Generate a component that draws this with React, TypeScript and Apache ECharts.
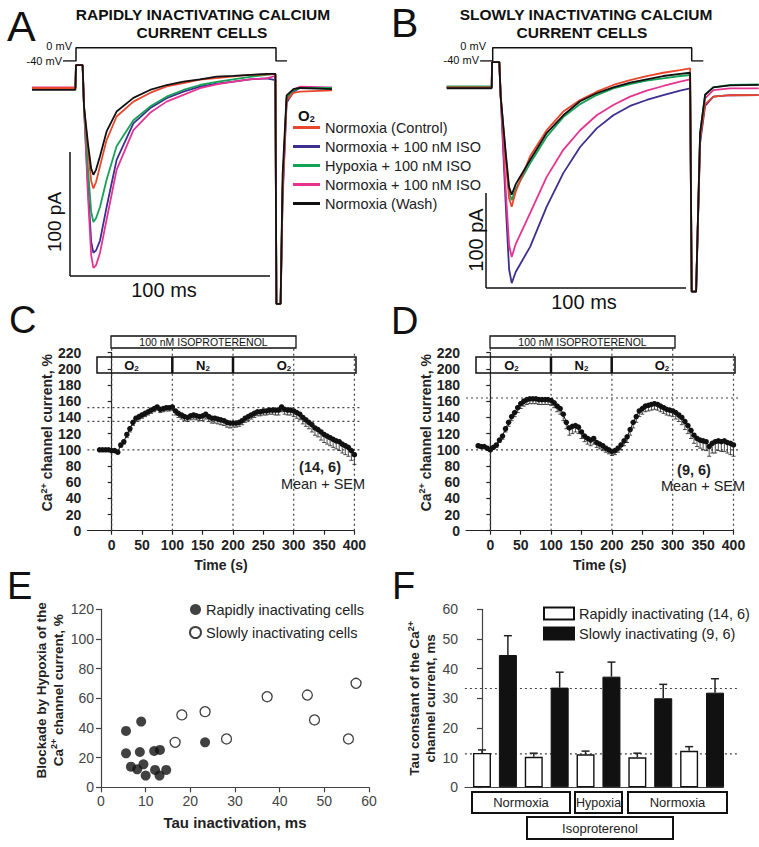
import React, { useEffect, useRef } from "react";
import * as echarts from "echarts";

const FONT = '"Liberation Sans", Arial, Helvetica, sans-serif';

// ---------- Panels A & B: voltage protocol (mV) and current traces (ms, pA)
const protoMv = [-40, -40, 0, 0, -40, -40];
const protoTimeA = [-6.5, 0, 0, 100, 100, 105.5];
const protoTimeB = [-6.3, 0, 0, 99.5, 99.5, 105.3];

const timeA = [-22, -0.3, 0, 3.3, 4, 6, 7.6, 8.7, 10, 12, 15.3, 20.3, 28.7, 37, 45.3, 53.7, 62, 70.3, 78.7, 87, 95.3, 99.7, 100.2, 102.3, 103.3, 105.3, 108.7, 112, 128];
const aCtrl = [0, 0, 18.5, 18.5, -15, -50, -75, -81, -76, -63, -42, -23, -11, -4, 1.3, 4, 6.7, 8, 9.4, 10.5, 11, 11.3, -174, -174, -80, -10, -4, -3, -2];
const aIsoA = [0, 0, 18.5, 18.5, -15, -80, -124, -133, -131, -123, -96, -58, -28.5, -16.4, -8.3, -3, 1.1, 3.5, 5.1, 7, 7.8, 6.4, -174, -174, -90, -12, -3, 0, 0];
const aHyp = [0, 0, 18.5, 18.5, -15, -65, -100, -108, -105, -96, -74, -47, -26, -15, -7, -1.6, 2.4, 5, 7, 9, 10.5, 11.3, -174, -174, -80, -8, -2, 0, 0];
const aIsoB = [0.5, 0.5, 18.5, 18.5, -15, -87, -135, -145, -143, -133, -106, -66, -34, -20, -11, -5.6, -0.2, 3, 5.1, 7, 7.8, 9.7, -174, -174, -85, -9, -1, 1, 0.5];
const aWash = [-1.5, -1.5, 18.5, 18.5, -15, -45, -65, -70, -66, -55, -35, -19, -8, -1.6, 2.4, 5.1, 7, 9.1, 9.7, 10.5, 11.3, 11.3, -174, -174, -70, -6, -1, 0, -1];

const timeB = [-23, -0.5, -0.3, 3.3, 4, 6.5, 8.2, 9.5, 11.5, 18.7, 27, 35.3, 43.7, 52, 60.3, 68.7, 77, 85.3, 93.7, 98.7, 99.5, 101.7, 103.7, 106.2, 110.3, 118.7, 133];
const bCtrl = [0, 0, 27, 27, -10, -78, -119, -128, -112, -74, -46, -26, -13.6, -4.7, 2.5, 7.8, 12.1, 15.6, 18.5, 20.4, -219, -219, -55, -18, -10, -8.5, -8.3];
const bIsoA = [0, 0, 27, 27, -10, -125, -195, -210, -198, -171, -128, -92, -64, -44, -30, -20, -13.6, -8.3, -3.6, -1.1, -219, -219, -60, -20, -10, -8.5, -8.3];
const bHyp = [1, 1, 27, 27, -10, -72, -112, -121, -109, -81.5, -53, -32, -18, -8.3, -1.1, 3.5, 7.1, 9.6, 12.1, 13.2, -219, -219, -49, -8, 0, 2.5, 3];
const bIsoB = [0, 0, 27, 27, -10, -110, -169, -182, -168, -135, -96, -67, -46, -30, -19, -10, -3.6, 1.4, 6, 8.6, -219, -219, -52, -12, -3, -1.1, -1.1];
const bWash = [-1, -1, 27, 27, -10, -70, -107, -115, -104, -78, -49, -30, -15, -6.4, 0, 4.9, 8.6, 12.1, 14.3, 15.6, -219, -219, -49, -8, 0, 2, 2.5];

const traceKeys = ["ctrl", "isoA", "hyp", "isoB", "wash"];
const traceLabels = ["Normoxia (Control)", "Normoxia + 100 nM ISO", "Hypoxia + 100 nM ISO", "Normoxia + 100 nM ISO", "Normoxia (Wash)"];
const traceColors = ["#e8472e", "#3c2f8f", "#17a058", "#e5348f", "#111111"];

// ---------- Panels C & D: time course (s, %)
const cdTime = [-20, -15, -10, -5, 0, 5, 10, 15, 20, 25, 30, 35, 40, 45, 50, 55, 60, 65, 70, 75, 80, 85, 90, 95, 100, 105, 110, 115, 120, 125, 130, 135, 140, 145, 150, 155, 160, 165, 170, 175, 180, 185, 190, 195, 200, 205, 210, 215, 220, 225, 230, 235, 240, 245, 250, 255, 260, 265, 270, 275, 280, 285, 290, 295, 300, 305, 310, 315, 320, 325, 330, 335, 340, 345, 350, 355, 360, 365, 370, 375, 380, 385, 390, 395, 400];
const cMean = [100, 100, 100, 100, 99, 99, 97, 106, 110, 119, 126, 134, 139, 141, 143, 145, 147, 149, 151, 153, 150, 151, 152, 152, 153, 148, 145, 143, 141, 140, 142, 143, 142, 141, 142, 144, 141, 139, 139, 138, 137, 136, 134, 133, 133, 133, 134, 136, 139, 141, 143, 145, 147, 147, 148, 148, 149, 149, 149, 149, 153, 150, 149, 149, 148, 146, 144, 140, 137, 134, 131, 127, 125, 122, 119, 117, 115, 113, 111, 110, 107, 105, 103, 99, 94];
const cSem = [1, 1, 1, 1, 1, 1, 2, 3, 3, 4, 4, 4, 4, 4, 4, 4, 4, 4, 4, 4, 4, 4, 4, 4, 4, 5, 5, 5, 5, 5, 5, 5, 5, 5, 6, 6, 6, 6, 6, 6, 6, 6, 6, 6, 5, 5, 5, 5, 5, 5, 5, 5, 5, 5, 5, 5, 5, 5, 6, 6, 6, 6, 6, 6, 7, 7, 7, 8, 8, 8, 9, 9, 9, 10, 10, 10, 10, 10, 10, 11, 11, 11, 11, 12, 12];
const dMean = [105, 104, 104, 102, 100, 103, 106, 112, 117, 126, 134, 141, 146, 152, 157, 160, 162, 163, 163, 163, 162, 162, 162, 162, 161, 158, 154, 151, 144, 134, 127, 129, 130, 128, 122, 117, 114, 112, 114, 109, 107, 105, 102, 100, 98, 99, 102, 106, 111, 116, 125, 134, 141, 148, 151, 154, 155, 156, 157, 156, 154, 152, 150, 149, 148, 146, 143, 140, 135, 130, 124, 118, 114, 112, 111, 110, 104, 108, 110, 111, 110, 111, 109, 108, 106];
const dSem = [2, 2, 2, 2, 2, 2, 3, 3, 4, 4, 5, 5, 5, 6, 6, 6, 6, 6, 6, 6, 6, 6, 6, 6, 6, 6, 7, 7, 8, 8, 9, 9, 8, 8, 8, 7, 7, 7, 7, 6, 6, 6, 5, 5, 5, 5, 5, 6, 6, 7, 7, 7, 7, 7, 7, 7, 7, 7, 7, 7, 7, 7, 7, 7, 7, 8, 8, 9, 10, 10, 10, 10, 10, 10, 11, 11, 12, 12, 14, 12, 12, 13, 13, 14, 14];
const cdTicks = [0, 50, 100, 150, 200, 250, 300, 350, 400];
const cdRefX = [0, 100, 200, 300, 400];
const cRefY = [100, 135, 152];
const dRefY = [100, 164];

// ---------- Panel E: scatter (ms, %)
const rapidTau = [5.6, 9.0, 5.6, 8.7, 11.9, 13.2, 6.7, 8.1, 9.5, 10.0, 12.1, 13.1, 14.6, 23.3];
const rapidBlock = [38, 44.3, 22.9, 23.8, 24.5, 25.2, 13.9, 12.1, 15.5, 7.9, 11.7, 7.9, 11.7, 30.3];
const slowTau = [16.6, 18.1, 23.3, 28.1, 37.2, 46.2, 47.8, 55.4, 57.1];
const slowBlock = [30.3, 48.8, 51, 32.6, 61.1, 62.2, 45.4, 32.6, 70.1];

// ---------- Panel F: bars (ms)
const rapidPos = [0, 2, 4, 6, 8];
const slowPos = [1, 3, 5, 7, 9];
const rapidTauMean = [11.6, 10.3, 11.1, 10.1, 12.3];
const rapidTauSem = [1.0, 1.2, 1.1, 1.4, 1.4];
const slowTauMean = [44.6, 33.6, 37.3, 30.0, 31.9];
const slowTauSem = [6.5, 5.2, 4.9, 4.7, 4.7];
const fRefY = [33.3, 11.3];

const zip = (xs: number[], ys: number[]) => xs.map((x, i) => [x, ys[i]]);

function txt(x: number, y: number, text: string, o: any = {}) {
  const align = o.align || "center";
  const size = o.size || 14;
  return {
    type: "text",
    x,
    y,
    rotation: o.rot || 0,
    z: 10,
    style: {
      text,
      fill: o.color || "#111",
      fontSize: size,
      fontWeight: o.bold ? "bold" : "normal",
      fontFamily: FONT,
      lineHeight: o.lh || Math.round(size * 1.05),
      align,
      verticalAlign: "middle",
      textAlign: align,
      textVerticalAlign: "middle",
      rich: o.rich,
    },
  };
}
function rect(x: number, y: number, w: number, h: number, lw = 1.5) {
  return { type: "rect", z: 9, shape: { x, y, width: w, height: h }, style: { fill: "none", stroke: "#111", lineWidth: lw } };
}
function seg(x1: number, y1: number, x2: number, y2: number, lw = 1.5) {
  return { type: "line", z: 9, shape: { x1, y1, x2, y2 }, style: { stroke: "#111", lineWidth: lw } };
}

const subRich = (size: number) => ({
  b: { fontSize: size, fontWeight: "bold", fontFamily: FONT, fill: "#111", color: "#111" },
  sub: { fontSize: Math.round(size * 0.62), fontWeight: "bold", fontFamily: FONT, verticalAlign: "bottom", fill: "#111", color: "#111" },
});

function buildOption() {
  const traceSets = [
    [aCtrl, aIsoA, aHyp, aIsoB, aWash],
    [bCtrl, bIsoA, bHyp, bIsoB, bWash],
  ];
  const drawOrder = [1, 3, 2, 0, 4];
  const series: any[] = [];

  // protocol lines
  series.push({ type: "line", xAxisIndex: 0, yAxisIndex: 0, data: zip(protoTimeA, protoMv), symbol: "none", lineStyle: { color: "#111", width: 1.5 }, silent: true });
  series.push({ type: "line", xAxisIndex: 2, yAxisIndex: 2, data: zip(protoTimeB, protoMv), symbol: "none", lineStyle: { color: "#111", width: 1.5 }, silent: true });

  traceSets.forEach((set, p) => {
    const times = p === 0 ? timeA : timeB;
    const ax = p === 0 ? 1 : 3;
    drawOrder.forEach((k) => {
      series.push({
        type: "line",
        name: traceKeys[k],
        xAxisIndex: ax,
        yAxisIndex: ax,
        data: zip(times, set[k]),
        symbol: "none",
        showSymbol: false,
        lineStyle: { color: traceColors[k], width: 1.8 },
        itemStyle: { color: traceColors[k] },
        silent: true,
      });
    });
  });

  const refRender = (dash: number[]) => (params: any, api: any) => {
    const p1 = api.coord([api.value(0), api.value(1)]);
    const p2 = api.coord([api.value(2), api.value(3)]);
    return { type: "line", shape: { x1: p1[0], y1: p1[1], x2: p2[0], y2: p2[1] }, style: { stroke: "#444", lineWidth: 1.2, lineDash: dash } };
  };
  const errRender = (dir: number, cap: number, lw: number) => (params: any, api: any) => {
    const x = api.value(0), m = api.value(1), s = api.value(2);
    const p1 = api.coord([x, m]);
    const p2 = api.coord([x, m + dir * s]);
    return {
      type: "group",
      children: [
        { type: "line", shape: { x1: p1[0], y1: p1[1], x2: p2[0], y2: p2[1] }, style: { stroke: "#222", lineWidth: lw } },
        { type: "line", shape: { x1: p2[0] - cap, y1: p2[1], x2: p2[0] + cap, y2: p2[1] }, style: { stroke: "#222", lineWidth: lw } },
      ],
    };
  };

  // C & D
  [
    { ax: 4, mean: cMean, sem: cSem, refY: cRefY },
    { ax: 5, mean: dMean, sem: dSem, refY: dRefY },
  ].forEach((d) => {
    const refs: number[][] = [];
    d.refY.forEach((y) => refs.push([-40, y, 410, y]));
    cdRefX.forEach((x) => refs.push([x, 0, x, x === 400 ? 220 : 226]));
    series.push({ type: "custom", xAxisIndex: d.ax, yAxisIndex: d.ax, data: refs, renderItem: refRender([2, 3]), silent: true, z: 1, encode: { x: 0, y: 1 } });
    series.push({ type: "custom", xAxisIndex: d.ax, yAxisIndex: d.ax, data: cdTime.map((t, i) => [t, d.mean[i], d.sem[i]]), renderItem: errRender(-1, 2, 0.8), silent: true, z: 2, encode: { x: 0, y: 1 } });
    series.push({
      type: "line",
      xAxisIndex: d.ax,
      yAxisIndex: d.ax,
      data: zip(cdTime, d.mean),
      symbol: "circle",
      symbolSize: 5.5,
      showAllSymbol: true,
      lineStyle: { color: "#111", width: 1 },
      itemStyle: { color: "#111" },
      silent: true,
      z: 3,
    });
  });

  // E
  series.push({ type: "scatter", name: "Rapidly inactivating cells", xAxisIndex: 6, yAxisIndex: 6, data: zip(rapidTau, rapidBlock), symbolSize: 10, itemStyle: { color: "#111" }, silent: true });
  series.push({ type: "scatter", name: "Slowly inactivating cells", xAxisIndex: 6, yAxisIndex: 6, data: zip(slowTau, slowBlock), symbolSize: 10, itemStyle: { color: "#fff", borderColor: "#111", borderWidth: 1.3 }, silent: true });

  // F
  series.push({ type: "custom", xAxisIndex: 7, yAxisIndex: 7, data: fRefY.map((y) => [-0.66, y, 9.85, y]), renderItem: refRender([2, 3]), silent: true, z: 1, encode: { x: 0, y: 1 } });
  series.push({ type: "bar", name: "Rapidly inactivating (14, 6)", xAxisIndex: 7, yAxisIndex: 7, data: zip(rapidPos, rapidTauMean), barWidth: 18, barGap: "-100%", itemStyle: { color: "#fff", borderColor: "#111", borderWidth: 1.4 }, silent: true, z: 2 });
  series.push({ type: "bar", name: "Slowly inactivating (9, 6)", xAxisIndex: 7, yAxisIndex: 7, data: zip(slowPos, slowTauMean), barWidth: 18, barGap: "-100%", itemStyle: { color: "#111", borderColor: "#111", borderWidth: 1 }, silent: true, z: 2 });
  series.push({
    type: "custom",
    xAxisIndex: 7,
    yAxisIndex: 7,
    data: rapidPos.map((x, i) => [x, rapidTauMean[i], rapidTauSem[i]]).concat(slowPos.map((x, i) => [x, slowTauMean[i], slowTauSem[i]])),
    renderItem: errRender(1, 4, 1.5),
    silent: true,
    z: 3,
    encode: { x: 0, y: 1 },
  });

  const hidden = { show: false };
  const darkLine = { show: true, lineStyle: { color: "#222", width: 1.2 } };
  const grayLine = { show: true, lineStyle: { color: "#444", width: 1.2 } };
  const supRich = (size: number, color: string) => ({
    sup: { fontSize: Math.round(size * 0.65), fontWeight: "bold", fontFamily: FONT, color, verticalAlign: "top", lineHeight: size + 2 },
  });

  const cdX = (gi: number) => ({
    gridIndex: gi,
    type: "value",
    min: -40,
    max: 400,
    axisLine: darkLine,
    axisTick: { show: true, length: 4, customValues: cdTicks, lineStyle: { color: "#222", width: 1.2 } },
    axisLabel: { customValues: cdTicks, fontWeight: "bold", fontSize: 14, color: "#222", fontFamily: FONT, margin: 7 },
    splitLine: hidden,
    name: "Time (s)",
    nameLocation: "middle",
    nameGap: 27,
    nameTextStyle: { fontWeight: "bold", fontSize: 14, color: "#222", fontFamily: FONT },
  });
  const cdY = (gi: number) => ({
    gridIndex: gi,
    type: "value",
    min: 0,
    max: 220,
    interval: 20,
    axisLine: darkLine,
    axisTick: { show: true, length: 4, lineStyle: { color: "#222", width: 1.2 } },
    axisLabel: { fontWeight: "bold", fontSize: 14, color: "#222", fontFamily: FONT, margin: 6 },
    splitLine: hidden,
    name: "Ca{sup|2+} channel current, %",
    nameLocation: "middle",
    nameGap: 31,
    nameRotate: 90,
    nameTextStyle: { fontWeight: "bold", fontSize: 14, color: "#222", fontFamily: FONT, padding: [0, 0, 0, 18], rich: supRich(14, "#222") },
  });

  const graphic: any[] = [
    // panel letters
    txt(7, 26, "A", { size: 43, align: "left" }),
    txt(391, 23, "B", { size: 41, align: "left" }),
    txt(9, 320, "C", { size: 38, align: "left" }),
    txt(391, 321, "D", { size: 38, align: "left" }),
    txt(7, 586, "E", { size: 38, align: "left" }),
    txt(392, 586, "F", { size: 38, align: "left" }),
    // titles
    txt(203, 14, "RAPIDLY INACTIVATING CALCIUM", { size: 15.5, bold: true }),
    txt(202, 32, "CURRENT CELLS", { size: 15.5, bold: true }),
    txt(586, 14, "SLOWLY INACTIVATING CALCIUM", { size: 15.5, bold: true }),
    txt(582, 32, "CURRENT CELLS", { size: 15.5, bold: true }),
    // protocol labels
    txt(72, 46, "0 mV", { size: 11, align: "right" }),
    txt(62, 60.5, "-40 mV", { size: 11, align: "right" }),
    txt(486, 46, "0 mV", { size: 11, align: "right" }),
    txt(479, 60, "-40 mV", { size: 11, align: "right" }),
    // legend header
    txt(298, 115, "{b|O}{sub|2}", { size: 15, bold: true, align: "left", rich: subRich(15) }),
    // scale bars
    seg(70, 152, 70, 276),
    seg(70, 276, 270, 276),
    txt(54, 222, "100 pA", { size: 19, rot: Math.PI / 2 }),
    txt(164, 290, "100 ms", { size: 20 }),
    seg(486, 193, 486, 288),
    seg(486, 288, 686, 288),
    txt(476, 240, "100 pA", { size: 20, rot: Math.PI / 2 }),
    txt(584, 302, "100 ms", { size: 20 }),
    // C annotations
    rect(111, 336, 185, 12, 1.3),
    txt(203.5, 342, "100 nM ISOPROTERENOL", { size: 10.5 }),
    rect(97, 357, 259, 16, 1.5),
    seg(172.3, 357, 172.3, 373, 2.5),
    seg(233, 357, 233, 373, 2.5),
    txt(131.5, 365, "{b|O}{sub|2}", { size: 13, rich: subRich(13) }),
    txt(203, 365, "{b|N}{sub|2}", { size: 13, rich: subRich(13) }),
    txt(284, 365, "{b|O}{sub|2}", { size: 13, rich: subRich(13) }),
    txt(320, 467, "(14, 6)", { size: 14.5, bold: true, color: "#222", lh: 15 }),
    txt(323, 484, "Mean + SEM", { size: 14.5, color: "#222", lh: 15 }),
    // D annotations
    rect(490, 336, 185, 12, 1.3),
    txt(582.5, 342, "100 nM ISOPROTERENOL", { size: 10.5 }),
    rect(476, 357, 259, 16, 1.5),
    seg(551, 357, 551, 373, 2.5),
    seg(611.7, 357, 611.7, 373, 2.5),
    txt(511.5, 365, "{b|O}{sub|2}", { size: 13, rich: subRich(13) }),
    txt(581.5, 365, "{b|N}{sub|2}", { size: 13, rich: subRich(13) }),
    txt(662, 365, "{b|O}{sub|2}", { size: 13, rich: subRich(13) }),
    txt(694, 469.5, "(9, 6)", { size: 14.5, bold: true, color: "#222", lh: 15 }),
    txt(703, 486, "Mean + SEM", { size: 14.5, color: "#222", lh: 15 }),
    // F condition boxes
    rect(472, 792, 98, 21, 2),
    txt(521, 802.5, "Normoxia", { size: 13, color: "#222" }),
    rect(575, 792, 47, 21, 2),
    txt(598.5, 802.5, "Hypoxia", { size: 12.5, color: "#222" }),
    rect(628, 792, 99, 21, 2),
    txt(677.5, 802.5, "Normoxia", { size: 13, color: "#222" }),
    rect(527, 817, 146, 22, 2),
    txt(600, 828, "Isoproterenol", { size: 13, color: "#222" }),
  ];

  return {
    animation: false,
    backgroundColor: "#fff",
    textStyle: { fontFamily: FONT },
    grid: [
      { left: 32, top: 47.7, width: 300, height: 13.3 },
      { left: 32, top: 38, width: 300, height: 272 },
      { left: 446.7, top: 47.7, width: 312, height: 13.3 },
      { left: 446.7, top: 40, width: 312, height: 260 },
      { left: 87.4, top: 352.7, width: 267, height: 178 },
      { left: 466, top: 352.7, width: 267.5, height: 178 },
      { left: 101, top: 609.3, width: 268, height: 178 },
      { left: 465, top: 609.3, width: 258.3, height: 178 },
    ],
    xAxis: [
      { gridIndex: 0, type: "value", min: -22, max: 128, show: false },
      { gridIndex: 1, type: "value", min: -22, max: 128, show: false },
      { gridIndex: 2, type: "value", min: -23, max: 133, show: false },
      { gridIndex: 3, type: "value", min: -23, max: 133, show: false },
      cdX(4),
      cdX(5),
      {
        gridIndex: 6,
        type: "value",
        min: 0,
        max: 60,
        interval: 10,
        axisLine: grayLine,
        axisTick: { show: true, length: 5, lineStyle: { color: "#444", width: 1.2 } },
        axisLabel: { fontSize: 14, color: "#444", fontFamily: FONT, margin: 7 },
        splitLine: hidden,
        name: "Tau inactivation, ms",
        nameLocation: "middle",
        nameGap: 28,
        nameTextStyle: { fontWeight: "bold", fontSize: 15, color: "#222", fontFamily: FONT },
      },
      { gridIndex: 7, type: "value", min: -0.656, max: 9.32, axisLine: grayLine, axisTick: hidden, axisLabel: hidden, splitLine: hidden },
    ],
    yAxis: [
      { gridIndex: 0, type: "value", min: -40, max: 0, show: false },
      { gridIndex: 1, type: "value", min: -179, max: 40.3, show: false },
      { gridIndex: 2, type: "value", min: -40, max: 0, show: false },
      { gridIndex: 3, type: "value", min: -228, max: 50.7, show: false },
      cdY(4),
      cdY(5),
      {
        gridIndex: 6,
        type: "value",
        min: 0,
        max: 120,
        interval: 20,
        axisLine: grayLine,
        axisTick: { show: true, length: 5, lineStyle: { color: "#444", width: 1.2 } },
        axisLabel: { fontSize: 14, color: "#444", fontFamily: FONT, margin: 7 },
        splitLine: hidden,
        name: "Blockade by Hypoxia of the\nCa{sup|2+} channel current, %",
        nameLocation: "middle",
        nameGap: 33,
        nameRotate: 90,
        nameTextStyle: { fontWeight: "bold", fontSize: 13.5, lineHeight: 17, color: "#222", fontFamily: FONT, padding: [0, 0, 0, 16], rich: supRich(13.5, "#222") },
      },
      {
        gridIndex: 7,
        type: "value",
        min: 0,
        max: 60,
        interval: 10,
        axisLine: grayLine,
        axisTick: { show: true, length: 5, lineStyle: { color: "#444", width: 1.2 } },
        axisLabel: { fontSize: 14, color: "#444", fontFamily: FONT, margin: 7 },
        splitLine: hidden,
        name: "Tau constant of the Ca{sup|2+}\nchannel current, ms",
        nameLocation: "middle",
        nameGap: 23,
        nameRotate: 90,
        nameTextStyle: { fontWeight: "bold", fontSize: 13.5, lineHeight: 16, color: "#222", fontFamily: FONT, rich: supRich(13.5, "#222") },
      },
    ],
    legend: [
      {
        data: traceKeys,
        orient: "vertical",
        left: 293,
        top: 120,
        padding: 0,
        icon: "rect",
        itemWidth: 27,
        itemHeight: 3,
        itemGap: 4,
        selectedMode: false,
        formatter: (n: string) => traceLabels[traceKeys.indexOf(n)],
        textStyle: { fontSize: 14.5, lineHeight: 12, color: "#222", fontFamily: FONT },
      },
      {
        data: ["Rapidly inactivating cells", "Slowly inactivating cells"],
        orient: "vertical",
        left: 189,
        top: 602,
        padding: 0,
        icon: "circle",
        itemWidth: 11,
        itemHeight: 11,
        itemGap: 8,
        selectedMode: false,
        textStyle: { fontSize: 14.5, lineHeight: 14, color: "#222", fontFamily: FONT },
      },
      {
        data: ["Rapidly inactivating (14, 6)", "Slowly inactivating (9, 6)"],
        orient: "vertical",
        left: 543,
        top: 606,
        padding: 0,
        icon: "rect",
        itemWidth: 30,
        itemHeight: 12,
        itemGap: 5,
        selectedMode: false,
        textStyle: { fontSize: 14.5, lineHeight: 12, color: "#222", fontFamily: FONT },
      },
    ],
    graphic,
    series,
  };
}

export default function App() {
  const ref = useRef<HTMLDivElement>(null);
  useEffect(() => {
    document.body.style.margin = "0";
    const chart = echarts.init(ref.current as HTMLDivElement, null, { renderer: "svg" });
    chart.setOption(buildOption() as any);
    return () => chart.dispose();
  }, []);
  return <div ref={ref} style={{ width: 759, height: 847, background: "#fff" }} />;
}
